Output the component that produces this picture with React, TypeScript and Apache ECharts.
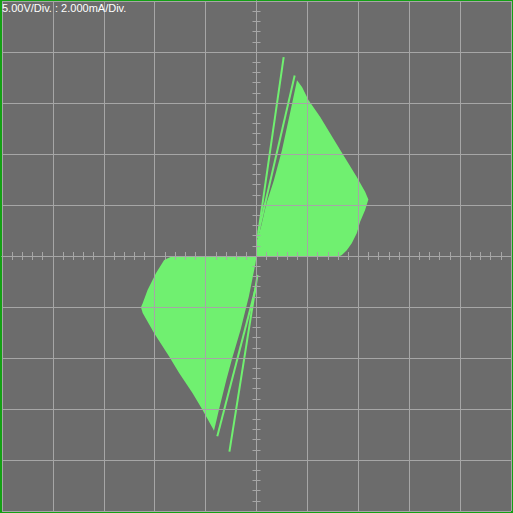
import React from "react";
import * as echarts from "echarts";

// X: volts (5 V/div), Y: milliamps (2 mA/div)
const upperLobe: number[][] = [
  [0, 0], [0.05, 0.63], [0.44, 1.14], [0.98, 2.07], [1.71, 2.97], [2.5, 4.15], [3.35, 5.71],
  [3.98, 6.89], [4.47, 6.63], [5.12, 6.11], [6.26, 5.45], [7.24, 4.8], [8.54, 3.95],
  [9.85, 3.1], [10.67, 2.52], [10.99, 2.22], [10.67, 1.8], [10.18, 1.34], [9.85, 0.89],
  [9.36, 0.5], [8.87, 0.23], [8.39, 0.04], [8.2, 0],
];
const lowerLobe: number[][] = [
  [0, 0], [-8.25, 0], [-9.07, -0.16], [-9.88, -0.68], [-10.7, -1.33], [-11.18, -1.85],
  [-11.35, -2.01], [-11.18, -2.24], [-10.05, -3.03], [-8.58, -3.94], [-7.6, -4.59],
  [-6.29, -5.37], [-5.31, -6.03], [-4.33, -6.74], [-4.18, -6.85],
  [-4.01, -6.58], [-3.69, -6.03], [-2.96, -4.85], [-2.38, -4.0], [-1.57, -2.9],
  [-0.75, -1.59], [-0.1, -0.29],
];
const traceA = [[0.1, 0.7], [2.67, 7.8]];
const traceB = [[0.2, 0.94], [3.75, 7.08]];
const traceC = [[0, -1.14], [-3.85, -7.07]];
const traceD = [[0.1, -0.74], [-2.66, -7.67]];

const scaleLabel = "5.00V/Div. : 2.000mA/Div.";

const GREEN = "#70f070";
const GRID = "#a6a6a6";
const BG = "#6c6c6c";

function axis(dim: "x" | "y", position: string, withSplit: boolean) {
  const isX = dim === "x";
  return {
    type: "value",
    min: isX ? -25 : -10,
    max: isX ? 25 : 10,
    interval: isX ? 5 : 2,
    position,
    z: 10,
    axisLine: { show: true, onZero: true, onZeroAxisIndex: 0, lineStyle: { color: GRID, width: 1 } },
    axisTick: { show: false },
    minorTick: { show: true, splitNumber: 5, length: 4, lineStyle: { color: GRID, width: 1 } },
    axisLabel: { show: false },
    splitLine: { show: withSplit, lineStyle: { color: GRID, width: 1 } },
  };
}

function lobe(points: number[][]) {
  return {
    type: "custom",
    data: points,
    encode: { x: 0, y: 1 },
    z: 2,
    renderItem: (params: any, api: any) => {
      if (params.dataIndex !== 0) return null;
      return {
        type: "polygon",
        shape: { points: points.map((p) => api.coord(p)) },
        style: { fill: GREEN },
      };
    },
  };
}

function trace(points: number[][]) {
  return {
    type: "line",
    data: points,
    showSymbol: false,
    z: 3,
    lineStyle: { color: GREEN, width: 2 },
  };
}

export default function App() {
  const ref = React.useRef<HTMLDivElement>(null);

  React.useEffect(() => {
    if (!ref.current) return;
    const chart = echarts.init(ref.current, undefined, { renderer: "svg" });
    chart.setOption({
      animation: false,
      backgroundColor: "#14a014",
      grid: { show: true, left: 2, right: 2, top: 1, bottom: 2, backgroundColor: BG, borderWidth: 0 },
      xAxis: [axis("x", "bottom", true), axis("x", "top", false)],
      yAxis: [axis("y", "left", true), axis("y", "right", false)],
      graphic: [
        {
          type: "text",
          left: 2,
          top: 2,
          z: 20,
          style: { text: scaleLabel, fill: "#ffffff", font: "11px 'Liberation Sans', Arial, sans-serif" },
        },
      ],
      series: [lobe(upperLobe), lobe(lowerLobe), trace(traceA), trace(traceB), trace(traceC), trace(traceD)],
    });
    return () => chart.dispose();
  }, []);

  return <div ref={ref} style={{ position: "fixed", left: 0, top: 0, width: 513, height: 513 }} />;
}
